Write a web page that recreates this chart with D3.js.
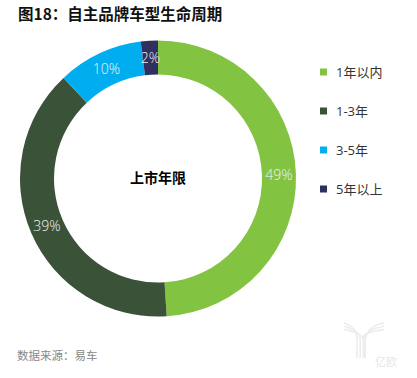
<!DOCTYPE html>
<html>
<head>
<meta charset="utf-8">
<script src="https://cdn.jsdelivr.net/npm/d3@7"></script>
<style>
  body { margin: 0; background: #fff; }
  svg { display: block; font-family: "Open Sans", "Noto Sans CJK SC", sans-serif; }
</style>
</head>
<body>
<svg id="chart" width="417" height="378"></svg>
<script>
const categories = ['1年以内', '1-3年', '3-5年', '5年以上'];
const values = [49, 39, 10, 2];
const colors = ['#82C341', '#3A5238', '#00AEEF', '#2E3060'];

const title = '图18：自主品牌车型生命周期',
    centerLabel = '上市年限',
    source = '数据来源：易车';

const svg = d3.select('#chart');

const cx = 158, cy = 178.5,
    outer = 138,
    inner = 104;

const color = d3.scaleOrdinal(categories, colors);

const pie = d3.pie().sort(null).value(d => d.value);
const arc = d3.arc().innerRadius(inner).outerRadius(outer);
const labelArc = d3.arc().innerRadius((inner + outer) / 2).outerRadius((inner + outer) / 2);

const data = categories.map((c, i) => ({ name: c, value: values[i] }));
const arcs = pie(data);

// faint watermark logo, bottom right
const wm = svg.append('g').attr('fill', 'none').attr('stroke', '#ededed').attr('stroke-width', 1.6);
[0, 3.2, 6.4].forEach(function(o) {
    wm.append('path').attr('d', 'M' + (357 + o) + ',358V' + (340) + 'Q' + (357 + o) + ',' + (327 + o) + ' ' + (344) + ',' + (323 + o));
    wm.append('path').attr('d', 'M' + (365 - o * 0.2) + ',358V' + (342 - o) + 'Q' + (366) + ',' + (326 + o) + ' ' + (384) + ',' + (323 + o));
});
svg.append('text')
    .attr('x', 375).attr('y', 366)
    .attr('font-family', '"Noto Sans CJK SC", sans-serif')
    .attr('font-size', 11)
    .attr('fill', '#e6e6e6')
    .text('亿欧');

svg.append('text')
    .attr('x', 18).attr('y', 20)
    .attr('font-family', '"Noto Sans CJK SC", sans-serif')
    .attr('font-size', 15.5)
    .attr('font-weight', 'bold')
    .attr('fill', '#111')
    .text(title);

const g = svg.append('g').attr('transform', `translate(${cx},${cy})`);

g.selectAll('path.slice')
    .data(arcs)
  .enter().append('path')
    .attr('class', 'slice')
    .attr('d', arc)
    .attr('fill', d => color(d.data.name));

g.selectAll('text.pct')
    .data(arcs)
  .enter().append('text')
    .attr('class', 'pct')
    .attr('transform', d => 'translate(' + labelArc.centroid(d) + ')')
    .attr('text-anchor', 'middle')
    .attr('dy', '0.35em')
    .attr('font-size', 14)
    .attr('font-weight', 300)
    .attr('fill', '#f2f2f2')
    .text(d => d.data.value + '%');

g.append('text')
    .attr('text-anchor', 'middle')
    .attr('dy', '0.35em')
    .attr('font-family', '"Noto Sans CJK SC", sans-serif')
    .attr('font-size', 14)
    .attr('font-weight', 'bold')
    .attr('fill', '#000')
    .text(centerLabel);

// legend
const legendY = d3.scalePoint().domain(categories).range([72, 189]);

const legend = svg.selectAll('.legend')
    .data(categories)
  .enter().append('g')
    .attr('class', 'legend')
    .attr('transform', d => `translate(320,${legendY(d)})`);

legend.append('rect')
    .attr('x', 0).attr('y', -3.5)
    .attr('width', 7).attr('height', 7)
    .attr('fill', color);

legend.append('text')
    .attr('x', 16)
    .attr('dy', '0.35em')
    .attr('font-size', 13)
    .attr('fill', '#333')
    .text(d => d);

svg.append('text')
    .attr('x', 17).attr('y', 360)
    .attr('font-family', '"Noto Sans CJK SC", sans-serif')
    .attr('font-size', 11.5)
    .attr('fill', '#888')
    .text(source);
</script>
</body>
</html>
